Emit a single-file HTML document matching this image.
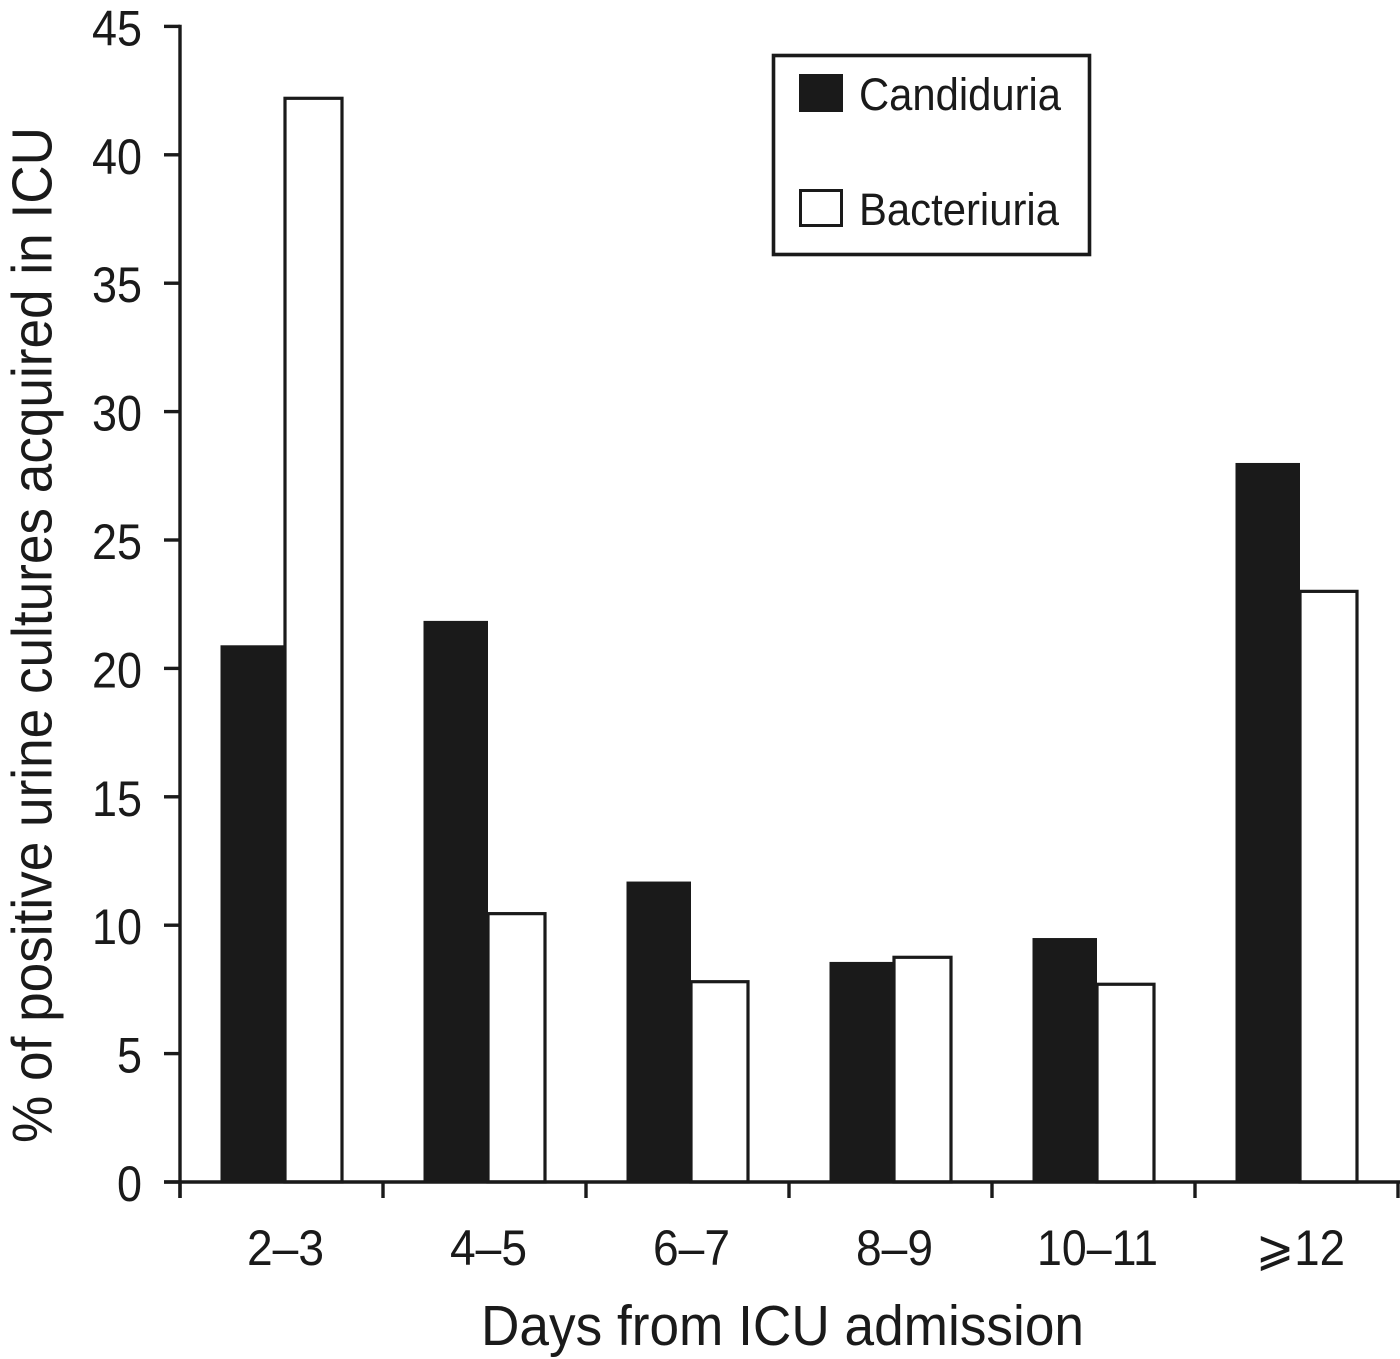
<!DOCTYPE html>
<html lang="en">
<head>
<meta charset="utf-8">
<title>Positive urine cultures by days from ICU admission</title>
<style>
  html, body { margin: 0; padding: 0; background: #fff; }
  body { width: 1400px; height: 1359px; overflow: hidden; }
  svg { display: block; }
  text { font-family: "Liberation Sans", "DejaVu Sans", sans-serif; fill: #1a1a1a; }
</style>
</head>
<body>
<svg id="chart" xmlns="http://www.w3.org/2000/svg" width="1400" height="1359" viewBox="0 0 1400 1359">
  <rect x="0" y="0" width="1400" height="1359" fill="#fff"/>
  <g id="bars"></g>
  <g id="axes"></g>
  <text transform="translate(51.5 1143) rotate(-90)" font-size="57" textLength="1016" lengthAdjust="spacingAndGlyphs">% of positive urine cultures acquired in ICU</text>
  <text x="481" y="1345" font-size="57" textLength="603" lengthAdjust="spacingAndGlyphs">Days from ICU admission</text>
  <g>
    <rect x="773.5" y="55.5" width="316" height="199" fill="#fff" stroke="#1a1a1a" stroke-width="3.6"/>
    <rect x="799" y="74" width="44" height="38" fill="#1a1a1a"/>
    <text x="859" y="110" font-size="45" textLength="202" lengthAdjust="spacingAndGlyphs">Candiduria</text>
    <rect x="800.5" y="190.5" width="41" height="35" fill="#fff" stroke="#1a1a1a" stroke-width="3"/>
    <text x="859" y="225" font-size="45" textLength="200" lengthAdjust="spacingAndGlyphs">Bacteriuria</text>
  </g>
</svg>
<script>
const categories = ["2–3", "4–5", "6–7", "8–9", "10–11", "⩾12"];
const candiduria = [20.9, 21.85, 11.7, 8.57, 9.5, 28.0];
const bacteriuria = [42.2, 10.45, 7.8, 8.75, 7.7, 23.0];
const yTickLabels = [0, 5, 10, 15, 20, 25, 30, 35, 40, 45];

const NS = "http://www.w3.org/2000/svg";
const INK = "#1a1a1a";
const plotLeft = 180, bandWidth = 203, plotBottom = 1182, unitHeight = 25.68;
const blackOffset = 40.5, blackWidth = 64.5, whiteWidth = 57;

function xBand(i) { return plotLeft + i * bandWidth; }
function yScale(v) { return plotBottom - v * unitHeight; }
function make(tag, attrs) {
  const el = document.createElementNS(NS, tag);
  for (const k in attrs) el.setAttribute(k, attrs[k]);
  return el;
}
function labelWidth(text) {
  // Reference type is slightly condensed relative to Liberation Sans.
  return text.length === 2 ? 50 : text.length === 3 ? 77 : text.length === 5 ? 121 : 25;
}

const barsLayer = document.getElementById("bars");
const axesLayer = document.getElementById("axes");

categories.forEach(function (cat, i) {
  const x0 = xBand(i) + blackOffset;
  const black = make("rect", { x: x0, y: yScale(candiduria[i]), width: blackWidth, height: plotBottom - yScale(candiduria[i]), fill: INK });
  
  
  barsLayer.appendChild(black);

  const white = make("rect", { x: x0 + blackWidth, y: yScale(bacteriuria[i]), width: whiteWidth, height: plotBottom - yScale(bacteriuria[i]), fill: "#fff", stroke: INK, "stroke-width": 3.2 });
  
  
  barsLayer.appendChild(white);
});

const yAxis = make("line", { x1: plotLeft, x2: plotLeft, y1: yScale(45) - 1.7, y2: plotBottom + 16, stroke: INK, "stroke-width": 3.4 });


axesLayer.appendChild(yAxis);

const xAxis = make("line", { x1: 164, x2: xBand(categories.length) + 2, y1: plotBottom, y2: plotBottom, stroke: INK, "stroke-width": 3.4 });


axesLayer.appendChild(xAxis);

yTickLabels.forEach(function (v) {
  const y = yScale(v);
  const tick = make("line", { x1: 164, x2: plotLeft, y1: y, y2: y, stroke: INK, "stroke-width": 3.4 });
  
  
  axesLayer.appendChild(tick);

  const s = String(v);
  const w = labelWidth(s);
  const label = make("text", { x: 142 - w, y: y + 19, "font-size": 50, textLength: w, lengthAdjust: "spacingAndGlyphs" });
  
  
  label.textContent = s;
  axesLayer.appendChild(label);
});

for (let i = 0; i <= categories.length; i++) {
  const tick = make("line", { x1: xBand(i), x2: xBand(i), y1: plotBottom, y2: plotBottom + 16, stroke: INK, "stroke-width": 3.4 });
  
  
  axesLayer.appendChild(tick);
}

categories.forEach(function (cat, i) {
  const w = i === categories.length - 1 ? 89 : labelWidth(cat);
  const cx = xBand(i) + bandWidth / 2 + 4;
  const label = make("text", { x: cx - w / 2, y: 1265, "font-size": 50, textLength: w, lengthAdjust: "spacingAndGlyphs" });
  
  
  label.textContent = cat;
  axesLayer.appendChild(label);
});
</script>
</body>
</html>
